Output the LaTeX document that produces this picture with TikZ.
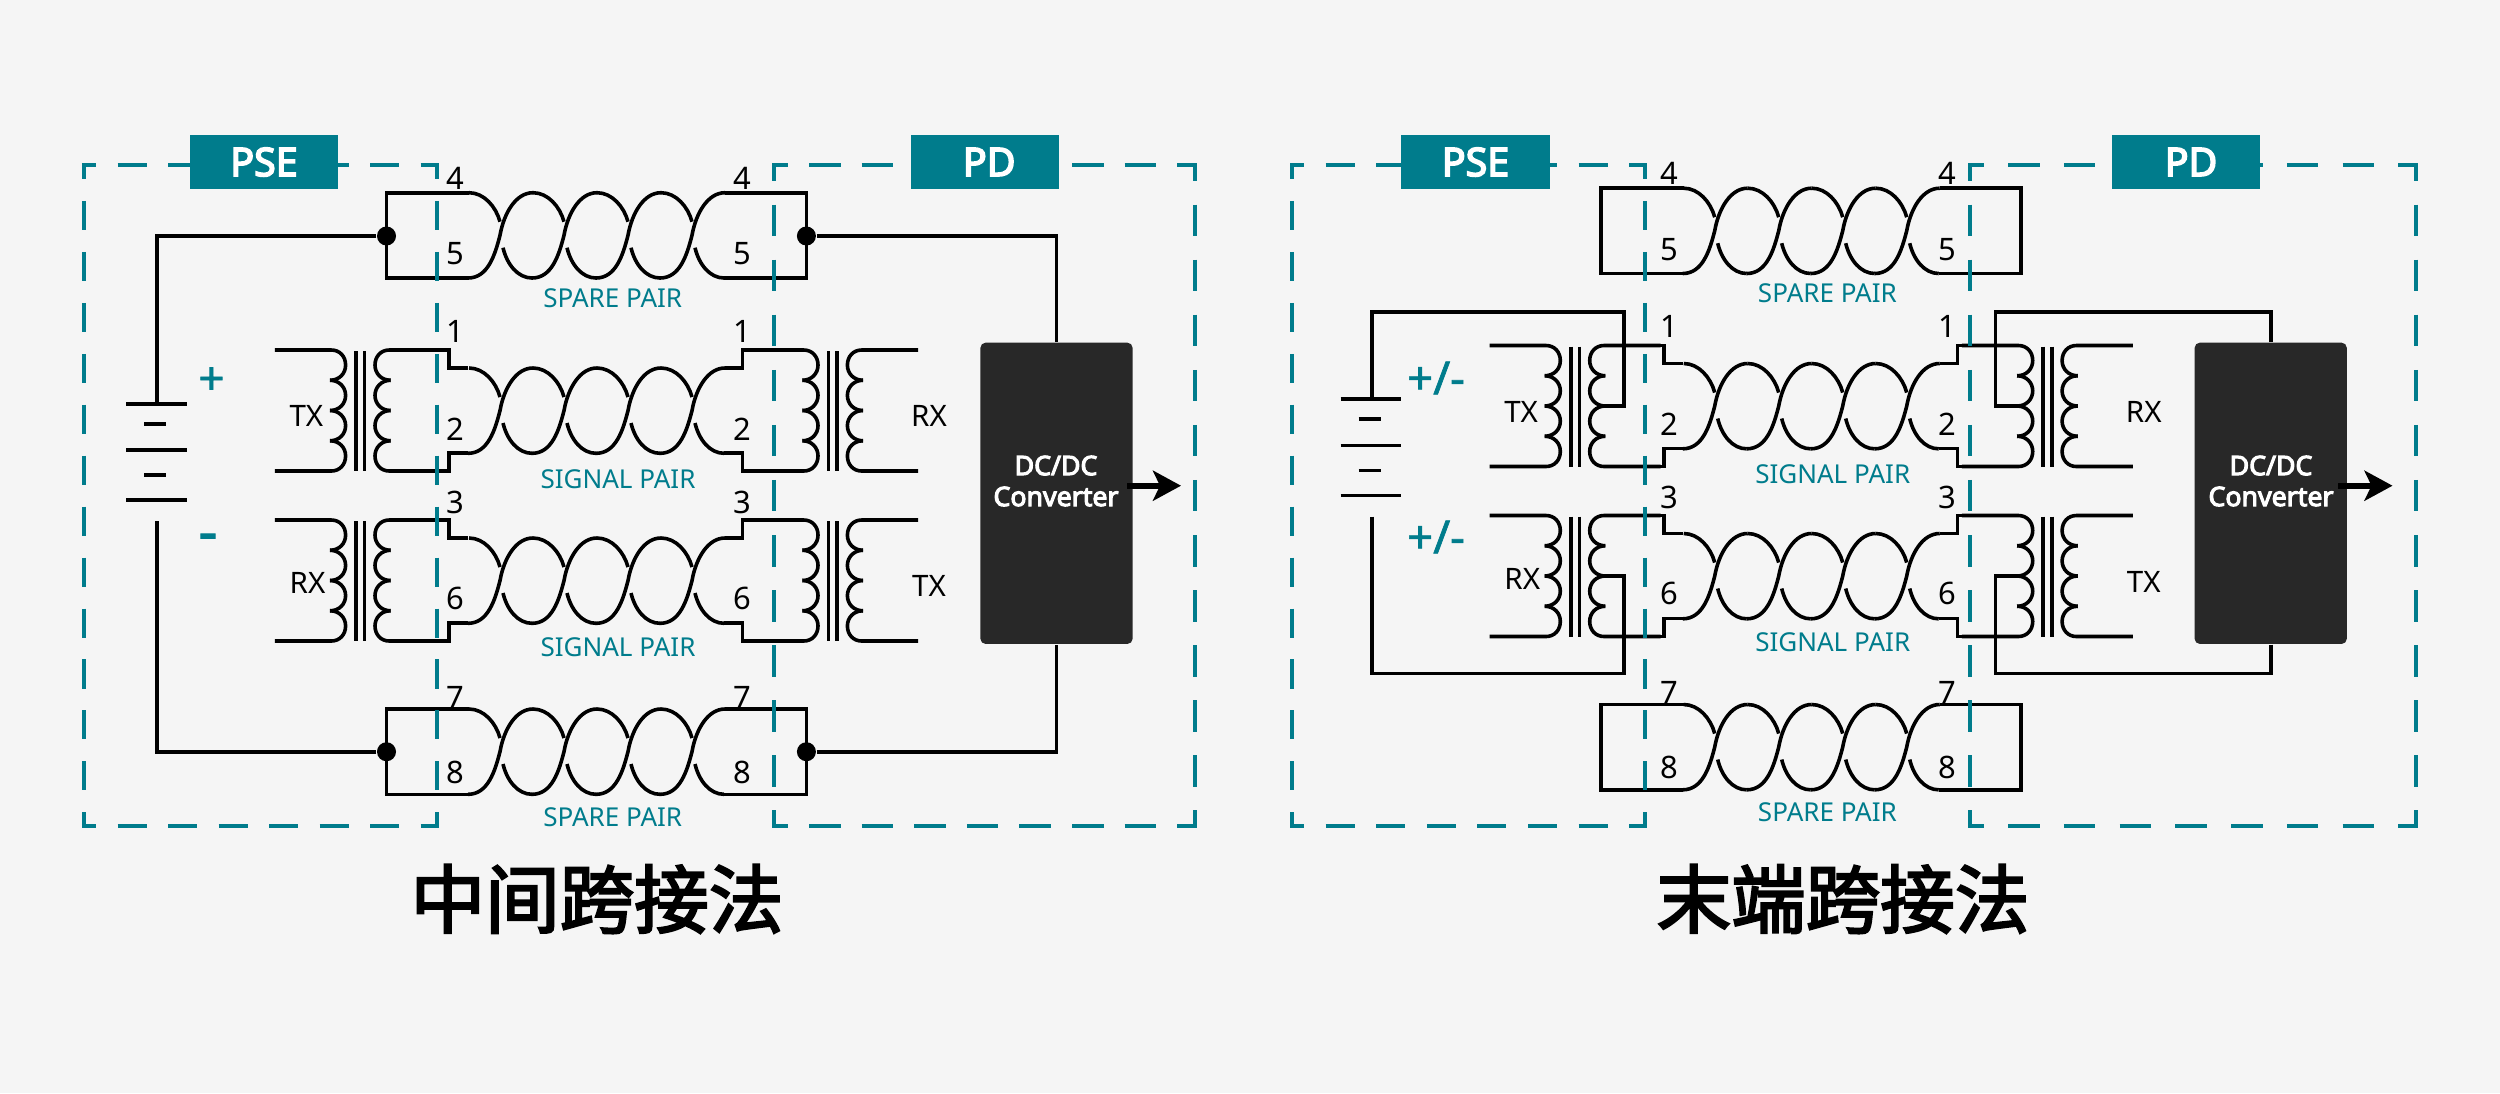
\documentclass[tikz,border=0pt]{standalone}
\usepackage{fontspec}
\setmainfont{Noto Sans}
\newfontfamily\tagfont[FakeBold=4]{Noto Sans}
\newfontfamily\midfont[FakeBold=1.5]{Noto Sans}
\newfontfamily\cjkfont[FakeBold=3]{Noto Sans CJK SC}
\usetikzlibrary{positioning,arrows.meta}
\definecolor{poeteal}{RGB}{0,124,140}
\definecolor{poebg}{RGB}{245,245,245}
\definecolor{poedark}{RGB}{40,40,40}

\begin{document}
\begin{tikzpicture}[x=0.01cm,y=-0.01cm]
	\tikzset{
		wire/.style={draw=black, line width=1.02pt},
		dashline/.style={draw=poeteal, line width=1.14pt},
		joint/.style={circle, fill=black, inner sep=0pt, minimum size=0.19cm},
		tagbox/.style={rectangle, fill=poeteal, text=white, inner sep=0pt, minimum width=1.48cm, minimum height=0.54cm, font=\fontsize{11.2pt}{13pt}\selectfont\tagfont},
		pinlabel/.style={inner sep=0pt, font=\fontsize{8.8pt}{10pt}\selectfont},
		sidelabel/.style={inner sep=0pt, font=\fontsize{8.4pt}{10pt}\selectfont},
		pairlabel/.style={inner sep=0pt, text=poeteal, font=\fontsize{7.4pt}{9pt}\selectfont},
		polarity/.style={inner sep=0pt, text=poeteal, font=\fontsize{13pt}{15pt}\selectfont\midfont},
		dcbox/.style={rectangle, rounded corners=0.05cm, fill=poedark, inner sep=0pt, minimum width=1.52cm, minimum height=3.01cm},
		dclabel/.style={inner sep=0pt, text=white, align=center, font=\fontsize{7.6pt}{8.8pt}\selectfont\tagfont},
		outarrow/.style={-{Stealth[length=0.28cm,width=0.3cm,inset=0.07cm]}, line width=1.7pt},
		titlelabel/.style={inner sep=0pt, font=\fontsize{21.2pt}{24pt}\selectfont\cjkfont},
		twistpair/.pic={
			\foreach \b in {0,64,128,192}
				\draw[wire] (\b,85.3) .. controls (\b+20,85.3) and (\b+27,62) .. (\b+32,42.6) .. controls (\b+36,20) and (\b+48,0) .. (\b+65,0);
			\foreach \b in {64,128,192,256}
				\draw[wire] (\b-29,55) .. controls (\b-25,72) and (\b-14,85.3) .. (\b,85.3);
			\foreach \b in {-64,0,64,128}
				\draw[wire] (\b+65,0) .. controls (\b+80,0) and (\b+92,14) .. (\b+96,29);
		},
		xfmr/.pic={
			\draw[wire] (-4.3,1) -- (-4.3,121) (4.3,1) -- (4.3,121);
			\foreach \s in {1,-1} {
				\begin{scope}[xscale=\s]
					\draw[wire] (85.5,0) -- (29,0) .. controls (20.5,0) and (14.7,6.5) .. (14.7,15.1) .. controls (14.7,23.5) and (21,30.25) .. (30.3,30.25);
					\foreach \c in {30.25,60.5}
						\draw[wire] (30.3,\c) .. controls (21,\c) and (14.7,\c+7) .. (14.7,\c+15.1) .. controls (14.7,\c+23.5) and (21,\c+30.25) .. (30.3,\c+30.25);
					\draw[wire] (30.3,90.75) .. controls (21,90.75) and (14.7,97.5) .. (14.7,105.9) .. controls (14.7,114.5) and (20.5,121) .. (29,121) -- (85.5,121);
				\end{scope}
			}
		}
	}
	\fill[poebg] (0,0) rectangle (2500,1093);

	% common part of both panels
	\foreach \dx/\dy/\side/\pinx in {0/0/L/742.6,1214.7/-4.5/R/732.6} {
		\begin{scope}[shift={(\dx,\dy)}]
			\foreach \yy in {192.7,709} {
				\draw[wire] (469,\yy) -- (386.5,\yy) -- (386.5,\yy+85.3) -- (468,\yy+85.3);
				\draw[wire] (725,\yy) -- (806.4,\yy) -- (806.4,\yy+85.3) -- (724,\yy+85.3);
				\pic at (468,\yy) {twistpair};
			}
			\foreach \yy in {350,520} {
				\pic at (360.3,\yy) {xfmr};
				\pic at (832.7,\yy) {xfmr};
				\draw[wire] (468,\yy+18) -- (449,\yy+18) -- (449,\yy) -- (440,\yy);
				\draw[wire] (468,\yy+103) -- (449,\yy+103) -- (449,\yy+121) -- (440,\yy+121);
				\draw[wire] (725,\yy+18) -- (742.6,\yy+18) -- (742.6,\yy) -- (750,\yy);
				\draw[wire] (724,\yy+103) -- (742.6,\yy+103) -- (742.6,\yy+121) -- (750,\yy+121);
				\pic at (468,\yy+18) {twistpair};
			}
			% battery
			\foreach \yy in {403.7,450,500}
				\draw[wire] (126,\yy) -- (186.5,\yy);
			\foreach \yy in {423.7,475}
				\draw[wire] (144,\yy) -- (166,\yy);
			\coordinate (batplus\side) at (157,403.7);
			\coordinate (batminus\side) at (157,521);

			\foreach \n/\yy in {4/178,5/254,1/331,2/429,3/502,6/598,7/697,8/772} {
				\node[pinlabel] (pinA\side\n) at (455,\yy) {\n};
				\node[pinlabel] (pinB\side\n) at (\pinx,\yy) {\n};
			}
			\node[pairlabel] (spareA\side) at (612.7,297.7) {SPARE PAIR};
			\node[pairlabel] (signalA\side) at (618,478.7) {SIGNAL PAIR};
			\node[pairlabel] (signalB\side) at (618,646.7) {SIGNAL PAIR};
			\node[pairlabel] (spareB\side) at (612.7,816.7) {SPARE PAIR};
			\node[sidelabel] (txA\side) at (306.4,416) {TX};
			\node[sidelabel] (rxA\side) at (307.5,583) {RX};
			\node[sidelabel] (rxB\side) at (929,416) {RX};
			\node[sidelabel] (txB\side) at (929,586) {TX};
		\end{scope}
	}

	% mid-span feed
	\node[joint] (dotAL) at (386.5,236) {};
	\node[joint] (dotBL) at (806.4,236) {};
	\node[joint] (dotCL) at (386.5,751.7) {};
	\node[joint] (dotDL) at (806.4,751.7) {};
	\node[dcbox] (dcL) at (1056.5,493.3) {};
	\draw[wire] (dotAL) -| (batplusL);
	\draw[wire] (dotCL) -| (batminusL);
	\draw[wire] (dotBL) -| (dcL.north);
	\draw[wire] (dotDL) -| (dcL.south);
	\node[polarity] (plusL) at (211.5,381) {+};
	\node[polarity, font=\fontsize{17pt}{19pt}\selectfont\midfont] (minusL) at (208,543) {-};

	% end-span feed
	\node[dcbox] (dcR) at (2270.7,493.3) {};
	\coordinate (railA) at (1623.7,311.7);
	\coordinate (tapA) at (1604,406.2);
	\coordinate (railB) at (1623.7,673.3);
	\coordinate (tapB) at (1604,576.2);
	\coordinate (railC) at (1995.4,311.7);
	\coordinate (tapC) at (2017,406.2);
	\coordinate (railD) at (1995.4,673.3);
	\coordinate (tapD) at (2017,576.2);
	\draw[wire] (batplusR) |- (railA) |- (tapA);
	\draw[wire] (batminusR) |- (railB) |- (tapB);
	\draw[wire] (dcR.north) |- (railC) |- (tapC);
	\draw[wire] (dcR.south) |- (railD) |- (tapD);
	\node[polarity] (plusR) at (1436,378) {+/-};
	\node[polarity] (minusR) at (1436,537) {+/-};

	\foreach \side/\xc/\xa/\xb in {L/1056/1127/1181,R/2271/2338/2392.5} {
		\node[dclabel] (dctext\side) at (\xc,481) {DC/DC\\Converter};
		\coordinate (outA\side) at (\xa,485.7);
		\coordinate (outB\side) at (\xb,485.7);
		\draw[outarrow] (outA\side) -- (outB\side);
	}

	% dashed domains
	\foreach \xa/\xb/\on/\gh/\gv/\ph in {84/436.5/0.29/0.215/0.2192/0.15,774/1195/0.315/0.2106/0.2354/0.155,1292/1645/0.29/0.2157/0.2192/0.15,1970/2416/0.315/0.2419/0.2354/0.155} {
		\draw[dashline, dash pattern=on \on cm off \gh cm, dash phase=\ph cm, shorten <=-0.02cm, shorten >=-0.02cm] (\xa,165) -- (\xb,165);
		\draw[dashline, dash pattern=on \on cm off \gh cm, dash phase=\ph cm, shorten <=-0.02cm, shorten >=-0.02cm] (\xa,826) -- (\xb,826);
		\draw[dashline, dash pattern=on \on cm off \gv cm, dash phase=\ph cm] (\xa,165) -- (\xa,826);
		\draw[dashline, dash pattern=on \on cm off \gv cm, dash phase=\ph cm] (\xb,165) -- (\xb,826);
	}
	\node[tagbox] (pseL) at (264,162) {PSE};
	\node[tagbox] (pdL) at (984.7,162) {\hspace{0.09cm}PD};
	\node[tagbox] (pseR) at (1475.5,162) {PSE};
	\node[tagbox] (pdR) at (2186,162) {\hspace{0.1cm}PD};

	\node[titlelabel] (titleL) at (597,899) {中间跨接法};
	\node[titlelabel] (titleR) at (1843,899) {末端跨接法};
\end{tikzpicture}
\end{document}
